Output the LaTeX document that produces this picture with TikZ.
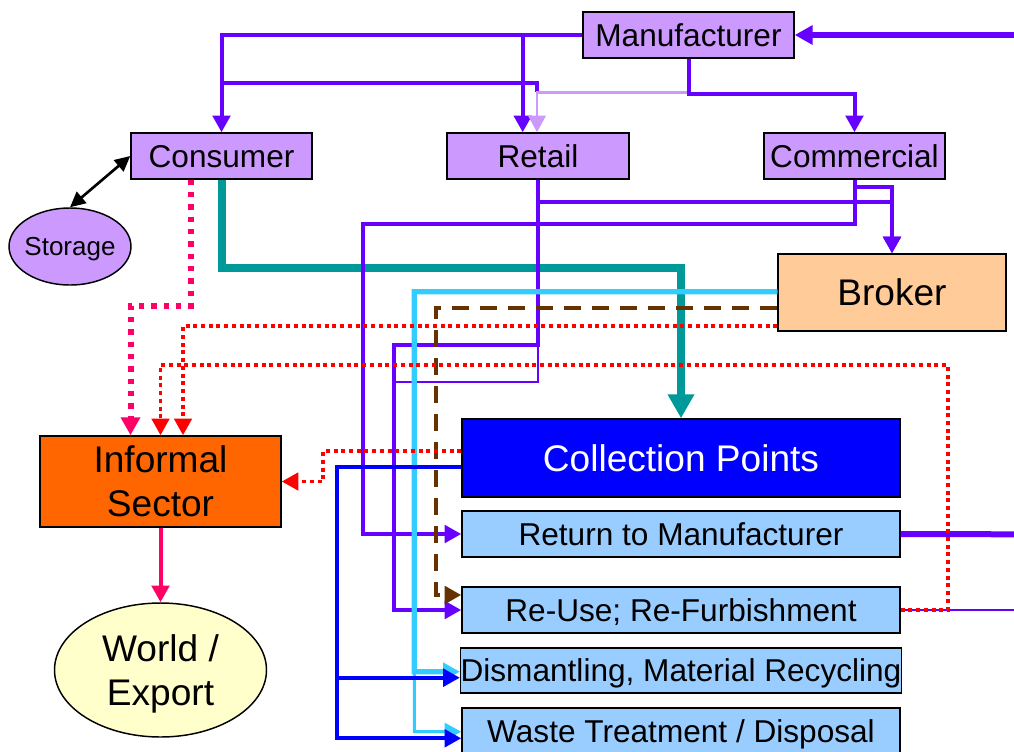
\documentclass[tikz,border=0pt]{standalone}
\usepackage{fontspec}
\setmainfont{Liberation Sans}
\usetikzlibrary{arrows.meta,calc,shapes.geometric}
\definecolor{lav}{HTML}{CC99FF}
\definecolor{vio}{HTML}{6600FF}
\definecolor{tealc}{HTML}{009999}
\definecolor{cyanc}{HTML}{33CCFF}
\definecolor{brownc}{HTML}{663300}
\definecolor{redc}{HTML}{FF0000}
\definecolor{pinkc}{HTML}{FF0066}
\definecolor{bluec}{HTML}{0000FF}
\definecolor{lblue}{HTML}{99CCFF}
\definecolor{peach}{HTML}{FFCC99}
\definecolor{orangec}{HTML}{FF6600}
\definecolor{cream}{HTML}{FFFFCC}
\newcommand\fA{\fontsize{23.7pt}{28pt}\selectfont}
\newcommand\fB{\fontsize{27.8pt}{33pt}\selectfont}
\newcommand\fC{\fontsize{19.5pt}{23pt}\selectfont}
\begin{document}
\begin{tikzpicture}[x=0.75pt,y=-0.75pt,
  bx/.style={draw=black, line width=1.1pt, inner sep=0pt, font=\fA, text height=17pt, text depth=0pt},
  pbox/.style={bx, fill=lav, minimum height=34.5pt},
  sbox/.style={bx, fill=lblue, minimum width=328.5pt, minimum height=34.5pt},
  vline/.style={draw=vio, line width=3pt},
  vthin/.style={draw=vio, line width=2.2pt},
  vthick/.style={draw=vio, line width=4.5pt},
  lpline/.style={draw=lav, line width=2.2pt},
  tline/.style={draw=tealc, line width=6pt},
  cythick/.style={draw=cyanc, line width=4pt},
  cythin/.style={draw=cyanc, line width=2.2pt},
  bline/.style={draw=bluec, line width=3pt},
  brdash/.style={draw=brownc, line width=3.3pt, dash pattern=on 12.75pt off 8.25pt},
  rdot/.style={draw=redc, line width=2.8pt, dash pattern=on 3pt off 2.8pt},
  pdot/.style={draw=pinkc, line width=4.5pt, dash pattern=on 4pt off 5.25pt},
  pline/.style={draw=pinkc, line width=3pt},
  kline/.style={draw=black, line width=2pt},
  ah/.style={-{Triangle[width=13pt,length=12.5pt]}},
  ahM/.style={-{Triangle[width=14pt,length=13.5pt]}},
  ahL/.style={-{Triangle[width=19pt,length=18pt]}}
]
\clip (0,0) rectangle (1014,751);
\fill[white] (0,0) rectangle (1014,751);

% nodes
\node[pbox, minimum width=158.25pt] (mfr) at (688.5,35) {Manufacturer};
\node[pbox, minimum width=135.75pt] (cons) at (221.5,156) {Consumer};
\node[pbox, minimum width=136.5pt] (ret) at (538,156) {Retail};
\node[pbox, minimum width=135.75pt] (comm) at (854.5,156) {Commercial};
\node[bx, ellipse, fill=lav, font=\fC, text height=14pt, inner xsep=-4pt, minimum width=91.5pt, minimum height=57.75pt] (sto) at (70,246.5) {Storage};
\node[bx, fill=peach, font=\fB, text height=19.9pt, minimum width=171pt, minimum height=57.75pt] (brk) at (892,292.5) {Broker};
\node[draw=black, line width=1.1pt, inner sep=0pt, fill=orangec, font=\fB, align=center, minimum width=180.75pt, minimum height=68.25pt] (inf) at (160.5,481.5) {Informal\\Sector};
\node[draw=black, line width=1.1pt, inner sep=0pt, ellipse, fill=cream, font=\fB, align=center, text depth=0pt, minimum width=159pt, minimum height=100.5pt] (world) at (160.5,670) {World /\\Export};
\node[bx, fill=bluec, text=white, font=\fB, text height=19.9pt, minimum width=328.5pt, minimum height=58.5pt] (coll) at (681,458) {Collection Points};
\node[sbox] (rtm) at (681,534) {Return to Manufacturer};
\node[sbox] (reu) at (681,610) {Re-Use; Re-Furbishment};
\node[sbox, minimum height=33.75pt] (dis) at (681,670.5) {Dismantling, Material Recycling};
\node[sbox] (wst) at (681,731) {Waste Treatment / Disposal};

\coordinate (mfrin) at (1014,35);
\coordinate (rtmout) at (1014,534.3);
\coordinate (reuout) at (1014,610);

% teal
\draw[tline, ahL] (cons.south) |- ($(coll.north)+(0,-150)$) -- (coll.north);

% purple
\draw[vthick, ahM] (mfrin) -- (mfr.east);
\draw[vline, ah] (mfr.west) -| (cons.north);
\draw[vline, ah] (mfr.west) -| ($(ret.north)+(-15.3,0)$);
\coordinate (lpc) at ($(ret.north)+(-1,-40)$);
\draw[vline] (lpc) |- ($(cons.north)+(0,-49)$);
\draw[lpline, -{Triangle[width=13pt,length=12.5pt,fill=lav]}] (mfr.south) |- (lpc) -- ($(ret.north)+(-1,0)$);
\draw[vline, ah] (mfr.south) |- ($(comm.north)+(0,-38)$) -- (comm.north);
\draw[vline, ah] (ret.south) |- ($(brk.north)+(0,-51)$) -- (brk.north);
\draw[vline, ah] (comm.south) -- ++(0,7.7) -| (brk.north);
\draw[vline, ah] (comm.south) |- (363,224.3) |- (rtm.west);
\draw[vthin] (ret.south) |- (394,382) -- (394,400);
\draw[vline, ah] (ret.south) |- (394,345) |- (reu.west);
\draw[vthick] (rtm.east) -- (rtmout);
\draw[vthin] (reu.east) -- (reuout);

% cyan
\coordinate (cy) at ($(brk.west)+(0,-0.8)$);
\draw[cythin, ah] (cy) -- (414.3,291.7) |- ($(wst.west)+(0,0.7)$);
\draw[cythick, ah] (cy) -- (414.3,291.7) |- ($(dis.west)+(0,1.2)$);

% blue
\draw[bline, ah] ($(coll.west)+(0,8.7)$) -- (336.7,466.7) |- ($(dis.west)+(0,7.2)$);
\draw[bline, ah] ($(coll.west)+(0,8.7)$) -- (336.7,466.7) |- ($(wst.west)+(0,7.3)$);

% brown dashed
\draw[brdash, ah] ($(brk.west)+(0,15.2)$) -| (435.7,595) -- ($(reu.west)+(0,-15)$);

% red dotted
\draw[rdot, ah] ($(brk.west)+(0,33.5)$) -| ($(inf.north)+(22.5,0)$);
\draw[rdot, ah] (reu.east) -| (947.7,364.7) -| (inf.north);
\draw[rdot, ah] ($(coll.west)+(0,-7)$) -- (323.3,451) |- (inf.east);

% pink
\draw[pdot, ahM] ($(cons.south)+(-31,0)$) |- ($(inf.north)+(-30,-129)$) -- ($(inf.north)+(-30,0)$);
\draw[pline, ah] (inf.south) -- (world.north);

% storage
\draw[kline, {Triangle[width=11pt,length=11.5pt]}-{Triangle[width=11pt,length=11.5pt]}] (sto.north) -- (cons.west);
\end{tikzpicture}
\end{document}
